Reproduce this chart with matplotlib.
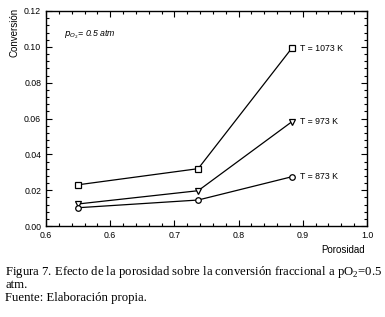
import matplotlib
matplotlib.use("Agg")
import matplotlib.pyplot as plt
from matplotlib.ticker import MultipleLocator

plt.rcParams['font.family'] = ['Liberation Sans', 'DejaVu Sans']

porosidad = [0.55, 0.737, 0.883]
conv_1073 = [0.023, 0.032, 0.0993]
conv_973 = [0.0123, 0.0197, 0.0582]
conv_873 = [0.0102, 0.0145, 0.0275]
etiquetas = ["T = 1073 K", "T = 973 K", "T = 873 K"]
marcadores = ["s", "v", "o"]
xtick_vals = [0.5, 0.6, 0.7, 0.8, 0.9, 1.0]
xtick_labels = ["0.6", "0.6", "0.7", "0.8", "0.9", "1.0"]
ytick_vals = [0.00, 0.02, 0.04, 0.06, 0.08, 0.10, 0.12]

fig = plt.figure(figsize=(3.85, 3.17), dpi=100)
ax = fig.add_axes([46 / 385, 1 - 226 / 317, 321 / 385, 215 / 317])

for serie, etq, mk in zip([conv_1073, conv_973, conv_873], etiquetas, marcadores):
    ax.plot(porosidad, serie, color="black", lw=0.9, marker=mk, ms=4,
            mfc="white", mec="black", mew=0.9)
    ax.annotate(etq, (porosidad[-1], serie[-1]), xytext=(6, 0),
                textcoords="offset points", va="center", fontsize=6.3)

ax.set_xlim(0.5, 1.0)
ax.set_ylim(0, 0.12)
ax.set_xticks(xtick_vals)
ax.set_xticklabels(xtick_labels)
ax.set_yticks(ytick_vals)
ax.set_yticklabels([f"{v:.2f}" for v in ytick_vals])
ax.xaxis.set_minor_locator(MultipleLocator(0.02))
ax.yaxis.set_minor_locator(MultipleLocator(0.004))
ax.tick_params(which="both", direction="in", top=True, right=True,
               labelsize=6.3, width=0.8)
ax.tick_params(which="major", length=4)
ax.tick_params(which="minor", length=2)
for s in ax.spines.values():
    s.set_linewidth(1.0)

ax.text(0.055, 0.88, r"$p_{O_2}$= 0.5 atm", transform=ax.transAxes,
        fontsize=6.3, style="italic")

fig.text(14 / 385, 1 - 8 / 317, "Conversión", rotation=90, ha="center",
         va="top", fontsize=7)
fig.text(365 / 385, 1 - 250 / 317, "Porosidad", ha="right", va="center",
         fontsize=7)

cap_font = ['Liberation Serif', 'DejaVu Serif']
fig.text(5 / 385, 1 - 272 / 317,
         r"Figura 7. Efecto de la porosidad sobre la conversión fraccional a pO$_\mathregular{2}$=0.5",
         family=cap_font, fontsize=9.2, va="center")
fig.text(5 / 385, 1 - 285 / 317, "atm.", family=cap_font, fontsize=9.2, va="center")
fig.text(5 / 385, 1 - 298 / 317, "Fuente: Elaboración propia.", family=cap_font,
         fontsize=9.2, va="center")

fig.savefig("out.png", dpi=100)
